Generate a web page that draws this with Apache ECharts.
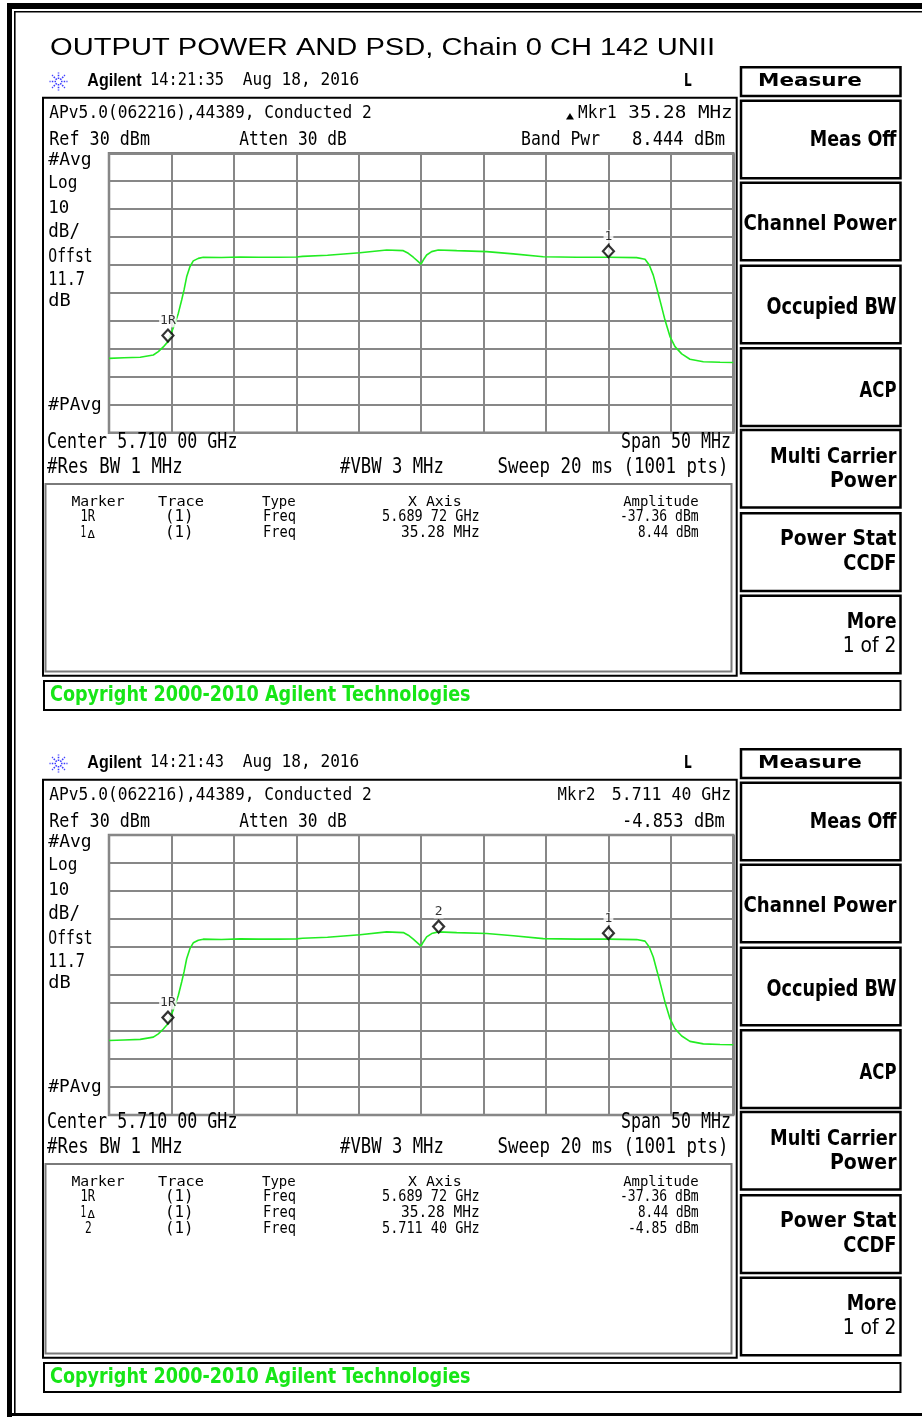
<!DOCTYPE html>
<html><head><meta charset="utf-8">
<script src="https://cdn.jsdelivr.net/npm/echarts@6/dist/echarts.min.js"></script>
<style>html,body{margin:0;padding:0;background:#fff}#c{width:922px;height:1418px}</style>
</head><body><div id="c"></div>
<script>
// ---------------- data ----------------
const xTicksMHz = [5685, 5690, 5695, 5700, 5705, 5710, 5715, 5720, 5725, 5730, 5735];
const yTicksDbm = [-70, -60, -50, -40, -30, -20, -10, 0, 10, 20, 30];
const traceFreqMHz = [5685.0, 5686.2, 5687.5, 5688.55, 5688.95, 5689.35, 5689.72, 5690.02, 5690.28, 5690.55, 5690.82, 5691.01, 5691.22, 5691.48, 5691.75, 5692.15, 5692.55, 5694.0, 5695.5, 5697.0, 5698.5, 5700.0, 5700.5, 5702.5, 5705.1, 5707.24, 5708.57, 5708.97, 5709.37, 5709.77, 5709.99, 5710.17, 5710.44, 5710.84, 5711.37, 5712.85, 5715.25, 5717.38, 5719.78, 5722.46, 5725.05, 5727.26, 5727.93, 5728.27, 5728.59, 5728.91, 5729.19, 5729.53, 5729.93, 5730.33, 5730.87, 5731.53, 5732.6, 5733.94, 5735.0];
const traceDbm = [-43.4, -43.2, -43.0, -42.2, -41.0, -39.3, -37.4, -33.9, -30.9, -27.3, -22.5, -18.9, -14.2, -10.6, -8.5, -7.6, -7.2, -7.3, -7.1, -7.2, -7.2, -7.1, -6.9, -6.5, -5.6, -4.6, -4.85, -5.8, -7.2, -8.8, -9.7, -8.2, -6.4, -5.2, -4.6, -4.85, -5.2, -6.0, -7.0, -7.2, -7.2, -7.35, -7.9, -10.0, -13.6, -18.9, -23.7, -29.7, -35.6, -39.2, -41.8, -43.7, -44.6, -44.8, -44.9];
const markerNames = ['1R', '1', '2'];
const markerFreqMHz = [5689.72, 5725.00, 5711.40];
const markerDbm = [-37.36, -7.2, -4.85];
const markersPerChart = [['1R', '1'], ['1R', '1', '2']];
const tableRows = [
  ['1R', '(1)', 'Freq', '5.689 72 GHz', '-37.36 dBm'],
  ['1\u0394', '(1)', 'Freq', '35.28 MHz', '8.44 dBm'],
  ['2', '(1)', 'Freq', '5.711 40 GHz', '-4.85 dBm']
];

// ---------------- helpers ----------------
const mctx = document.createElement('canvas').getContext('2d');
const MONO = 'DejaVu Sans Mono';
const SANS = 'DejaVu Sans';
function T(str, x1, x2, yTop, yBot, o) {
  o = o || {};
  const fam = o.family || MONO;
  const wt = o.bold ? 'bold ' : '';
  const cap = o.cap || 0.729;
  const fs = (yBot - yTop) / cap;
  const font = wt + fs.toFixed(2) + 'px "' + fam + '"';
  mctx.font = font;
  const w = mctx.measureText(str).width;
  const sx = (x2 - x1) / w;
  return {type: 'text', x: x1, y: (yTop + yBot) / 2, scaleX: sx, silent: true, z: 10,
    style: {text: str, font: font, fill: o.color || '#000', align: 'left', verticalAlign: 'middle'}};
}
function R(x, y, w, h, stroke, lw, fill) {
  return {type: 'rect', silent: true, z: 5, shape: {x: x, y: y, width: w, height: h},
    style: {fill: fill || null, stroke: stroke || null, lineWidth: lw || 0}};
}
function logo(cx, cy) {
  const ch = [];
  for (let i = 0; i < 8; i++) {
    const a = i * Math.PI / 4;
    ch.push({type: 'line', silent: true, shape: {x1: cx + Math.cos(a) * 2.5, y1: cy + Math.sin(a) * 2.5, x2: cx + Math.cos(a) * 9, y2: cy + Math.sin(a) * 9},
      style: {stroke: '#3a3aff', lineWidth: 1.6, lineDash: [1.5, 1.2]}});
  }
  return {type: 'group', z: 10, children: ch};
}

const G = [];
// page border
G.push(R(7, 3, 915, 6, null, 0, '#000'));
G.push(R(7, 3, 5, 1414, null, 0, '#000'));
G.push(R(14, 11, 908, 1.6, null, 0, '#000'));
G.push(R(14, 11, 1.6, 1402, null, 0, '#000'));
G.push(R(7, 1413, 915, 3, null, 0, '#000'));

// title
G.push(T('OUTPUT POWER AND PSD, Chain 0 CH 142 UNII', 50, 715, 40, 57, {family: 'Liberation Sans', cap: 0.716}));

function screen(d, db, idx) {
  // Agilent line
  G.push(logo(58.5, 81.5 + d));
  G.push(T('Agilent', 87.3, 141.7, 74 + d, 87.3 + d, {family: 'Liberation Sans', bold: true, cap: 0.716}));
  G.push(T(idx === 0 ? '14:21:35' : '14:21:43', 150, 224, 74 + d, 87.3 + d));
  G.push(T('Aug 18, 2016', 242.7, 359.3, 74 + d, 87.3 + d));
  G.push(T('L', 684, 691.7, 75 + d, 87.3 + d, {bold: true, family: SANS}));
  // frames
  G.push(R(43, 97.7 + d, 693.7, 578, '#000', 2));
  G.push(R(45.5, 484 + db, 686, 187.5 + (d - db), '#7a7a7a', 2));
  // softkeys
  G.push(R(741, 67.3 + d, 159.5, 28.7, '#000', 2.5));
  G.push(T('Measure', 758, 861.7, 75 + d, 87.3 + d, {bold: true, family: SANS}));
  const ky = [100.7, 182.7, 265.7, 348.3, 430, 513.3, 595.7];
  ky.forEach(function (y) { G.push(R(741, y + d, 159.5, 77.6, '#000', 2.5)); });
  const kt = [
    ['Meas Off', 809.8, 132.4, 148.2, true],
    ['Channel Power', 743.5, 216.6, 232.4, true],
    ['Occupied BW', 766.4, 299.7, 315.9, true],
    ['ACP', 859.6, 383.2, 399, true],
    ['Multi Carrier', 770, 449.3, 465, true],
    ['Power', 830, 473.3, 489, true],
    ['Power Stat', 780, 531.7, 547.3, true],
    ['CCDF', 843.3, 556.7, 571.7, true],
    ['More', 846.7, 615, 630.7, true],
    ['1 of 2', 842.7, 639, 654, false]
  ];
  kt.forEach(function (k) { G.push(T(k[0], k[1], 896.5, k[2] + d, k[3] + d, {bold: k[4], family: SANS})); });
  // copyright
  G.push(R(44, 681 + d, 856.5, 29, '#000', 2));
  G.push(T('Copyright 2000-2010 Agilent Technologies', 50, 470.6, 688.3 + d, 703.3 + d, {bold: true, family: SANS, color: '#17e617'}));
  // header
  G.push(T('APv5.0(062216),44389, Conducted 2', 49.3, 371.7, 106.7 + d, 120 + d));
  G.push(T('Ref 30 dBm', 49.3, 150, 132.7 + d, 146.7 + d));
  G.push(T('Atten 30 dB', 239.3, 346.7, 132.7 + d, 146.7 + d));
  if (idx === 0) {
    G.push(T('\u25B2', 566, 574, 112, 120));
    G.push(T('Mkr1', 578, 616.7, 106.7, 120));
    G.push(T('35.28 MHz', 628.3, 732.7, 106.7, 120));
    G.push(T('Band Pwr', 521, 600, 132.7, 146.7));
    G.push(T('8.444 dBm', 632, 725, 132.7, 146.7));
  } else {
    G.push(T('Mkr2', 557.6, 595.3, 789.3, 801.7));
    G.push(T('5.711 40 GHz', 611.8, 731.2, 789.3, 801.7));
    G.push(T('-4.853 dBm', 622, 724.7, 815, 828.7));
  }
  // left labels
  const ll = [['#Avg', 91.7, 154, 166.7], ['Log', 77.3, 177, 190], ['10', 69.3, 201.7, 215], ['dB/', 80, 225, 239],
    ['Offst', 92.7, 250, 264.3], ['11.7', 85, 272.7, 286.7], ['dB', 70.7, 295.7, 308.3], ['#PAvg', 101.7, 398.3, 411.7]];
  ll.forEach(function (l) { G.push(T(l[0], 48.3, l[1], l[2] + d, l[3] + d)); });
  // bottom
  G.push(T('Center 5.710 00 GHz', 47, 237.4, 435 + db, 450 + db));
  G.push(T('Span 50 MHz', 621, 731, 435 + db, 450 + db));
  G.push(T('#Res BW 1 MHz', 47, 182.7, 460 + db, 475 + db));
  G.push(T('#VBW 3 MHz', 340, 443.8, 460 + db, 475 + db));
  G.push(T('Sweep 20 ms (1001 pts)', 497.6, 728.6, 460 + db, 475 + db));
  // table
  const hy = 496.6 + db;
  G.push(T('Marker', 71.4, 124.5, hy, hy + 10.6));
  G.push(T('Trace', 158, 204, hy, hy + 10.6));
  G.push(T('Type', 262, 295.7, hy, hy + 10.6));
  G.push(T('X Axis', 408, 461.7, hy, hy + 10.6));
  G.push(T('Amplitude', 623.2, 698.6, hy, hy + 10.6));
  const nrows = idx === 0 ? 2 : 3;
  const mx = [[80.4, 95], [80.4, 86], [84.9, 91.6]];
  const xx = [382, 401, 382];
  const ax = [620, 638, 628];
  for (let r = 0; r < nrows; r++) {
    const y = 511.8 + db + r * 15.6;
    const row = tableRows[r];
    if (r === 1) {
      G.push(T('1', 80.4, 86, y, y + 11.2));
      G.push(T('\u0394', 87.5, 95, y + 4, y + 11.2));
    } else {
      G.push(T(row[0], mx[r][0], mx[r][1], y, y + 11.2));
    }
    G.push(T(row[1], 165, 193.5, y, y + 11.2));
    G.push(T(row[2], 263, 296, y, y + 11.2));
    G.push(T(row[3], xx[r], 479.7, y, y + 11.2));
    G.push(T(row[4], ax[r], 698.6, y, y + 11.2));
  }
}
screen(0, 0, 0);
screen(682, 680, 1);

// ---------------- chart ----------------
const gridTops = [153.3, 835];
const gridH = [279.4, 280];
const splitStyle = {show: true, lineStyle: {color: '#878787', width: 2}};
const option = {
  animation: false,
  backgroundColor: '#fff',
  grid: gridTops.map(function (t, i) {
    return {left: 109, top: t, width: 624.3, height: gridH[i], show: true, borderColor: '#808080', borderWidth: 2.5, backgroundColor: 'transparent'};
  }),
  xAxis: [0, 1].map(function (i) {
    return {type: 'value', gridIndex: i, min: xTicksMHz[0], max: xTicksMHz[xTicksMHz.length - 1], interval: xTicksMHz[1] - xTicksMHz[0],
      axisLine: {show: false}, axisTick: {show: false}, axisLabel: {show: false}, splitLine: splitStyle};
  }),
  yAxis: [0, 1].map(function (i) {
    return {type: 'value', gridIndex: i, min: yTicksDbm[0], max: yTicksDbm[yTicksDbm.length - 1], interval: yTicksDbm[1] - yTicksDbm[0],
      axisLine: {show: false}, axisTick: {show: false}, axisLabel: {show: false}, splitLine: splitStyle};
  }),
  graphic: G,
  series: []
};
[0, 1].forEach(function (i) {
  option.series.push({
    type: 'line', xAxisIndex: i, yAxisIndex: i, showSymbol: false, silent: true, z: 3,
    data: traceFreqMHz.map(function (f, k) { return [f, traceDbm[k]]; }),
    lineStyle: {color: '#22ec22', width: 1.6}
  });
  option.series.push({
    type: 'scatter', xAxisIndex: i, yAxisIndex: i, silent: true, z: 6,
    symbol: 'diamond', symbolSize: [11, 12], symbolOffset: [0, -6],
    itemStyle: {color: '#fff', borderColor: '#000', borderWidth: 2.2},
    label: {show: true, position: 'top', distance: 1, formatter: '{b}', fontFamily: MONO, fontSize: 13, color: '#000', backgroundColor: '#fff', padding: [0, 1]},
    data: markersPerChart[i].map(function (n) {
      const k = markerNames.indexOf(n);
      return {name: n, value: [markerFreqMHz[k], markerDbm[k]]};
    })
  });
});
const chart = echarts.init(document.getElementById('c'), null, {renderer: 'canvas'});
chart.setOption(option);
</script></body></html>
